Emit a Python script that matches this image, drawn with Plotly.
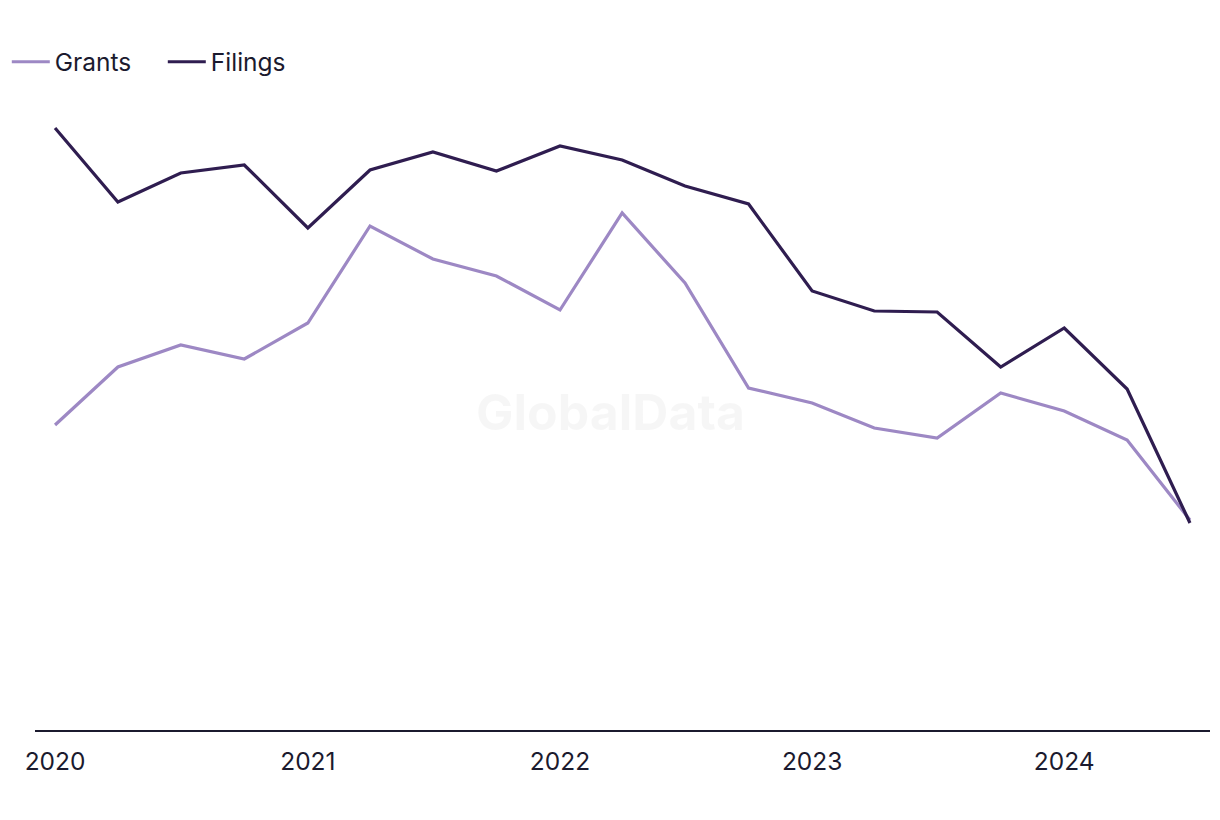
import plotly.graph_objects as go

quarters = ["2020-01-01", "2020-04-01", "2020-07-01", "2020-10-01",
            "2021-01-01", "2021-04-01", "2021-07-01", "2021-10-01",
            "2022-01-01", "2022-04-01", "2022-07-01", "2022-10-01",
            "2023-01-01", "2023-04-01", "2023-07-01", "2023-10-01",
            "2024-01-01", "2024-04-01", "2024-07-01"]
grants = [305, 363, 385, 371, 407, 504, 471, 454, 420, 517, 447, 342,
          327, 302, 292, 337, 319, 290, 210]
filings = [602, 528, 557, 565, 502, 560, 578, 559, 584, 570, 544, 526,
           439, 419, 418, 363, 402, 341, 207]
tick_vals = ["2020-01-01", "2021-01-01", "2022-01-01", "2023-01-01", "2024-01-01"]
tick_text = ["2020", "2021", "2022", "2023", "2024"]

fig = go.Figure()
fig.add_trace(go.Scatter(x=quarters, y=grants, name="Grants", mode="lines",
                         line=dict(color="#9d88c4", width=3.2)))
fig.add_trace(go.Scatter(x=quarters, y=filings, name="Filings", mode="lines",
                         line=dict(color="#2f1d50", width=3.2)))

fig.add_annotation(text="<b>GlobalData</b>", x=0.49, y=0.49, xref="paper", yref="paper",
                   showarrow=False, font=dict(size=50, color="rgba(0,0,0,0.035)",
                                               family="Inter, Roboto, sans-serif"))

fig.update_layout(
    width=1220, height=820,
    margin=dict(l=27, r=18, t=72, b=98, autoexpand=False),
    plot_bgcolor="white", paper_bgcolor="white",
    font=dict(family="Inter, Roboto, sans-serif", size=24.5, color="#1b1a2e"),
    legend=dict(orientation="h", x=-0.024, y=1.028, xanchor="left", yanchor="middle",
                font=dict(size=24.5), itemwidth=38, entrywidth=103, traceorder="normal"),
    xaxis=dict(range=["2019-12-03", "2024-07-30"], tickvals=tick_vals, ticktext=tick_text,
               showgrid=False, showline=True, linecolor="#1b1a2e", linewidth=2,
               ticks="", zeroline=False, ticklabelstandoff=9, automargin=False),
    yaxis=dict(range=[0, 650], showgrid=False, showticklabels=False, zeroline=False,
               showline=False, ticks="", automargin=False),
    showlegend=True,
)

fig.write_html("out.html")
